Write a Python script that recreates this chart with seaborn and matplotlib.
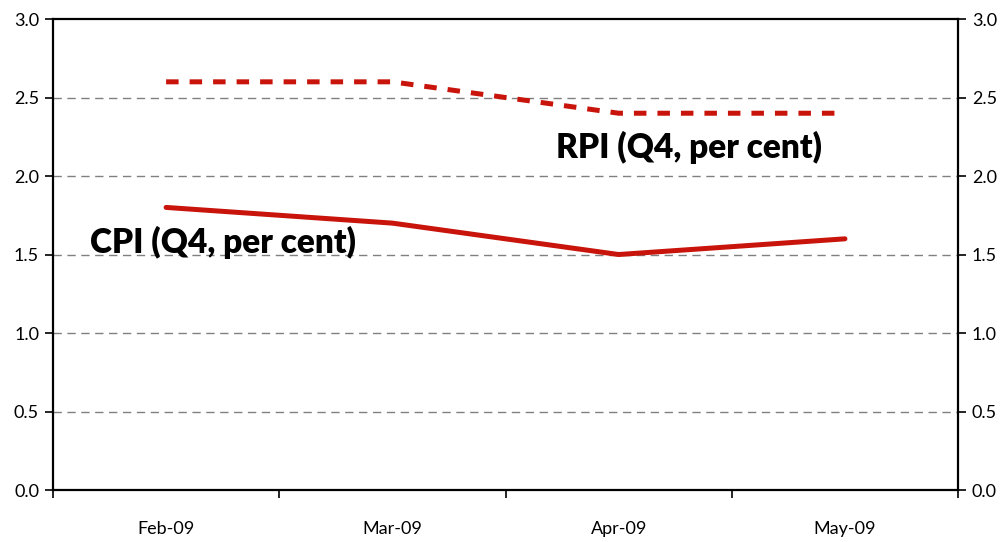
import pandas as pd
import matplotlib.pyplot as plt
import seaborn as sns
from matplotlib.ticker import FixedLocator, NullFormatter

# Data
months = ['Feb-09', 'Mar-09', 'Apr-09', 'May-09']
cpi = [1.8, 1.7, 1.5, 1.6]
rpi = [2.6, 2.6, 2.4, 2.4]
y_ticks = [0.0, 0.5, 1.0, 1.5, 2.0, 2.5, 3.0]

RED = '#C8140A'


def build_frame():
    """Gom dữ liệu thành DataFrame dạng dài."""
    idx = list(range(len(months)))
    df = pd.DataFrame({
        'pos': idx * 2,
        'value': cpi + rpi,
        'series': ['CPI'] * len(months) + ['RPI'] * len(months),
    })
    return df


def main():
    sns.set_style('white')
    plt.rcParams['font.family'] = ['Lato', 'DejaVu Sans']
    plt.rcParams['text.color'] = 'black'
    plt.rcParams['xtick.color'] = 'black'
    plt.rcParams['ytick.color'] = 'black'

    df = build_frame()
    fig = plt.figure(figsize=(10.07, 5.42), dpi=100)
    ax = fig.add_axes([0.0526, 0.0959, 0.8988, 0.869])

    # Lưới ngang nét đứt
    for y in y_ticks[1:-1]:
        ax.axhline(y, color='#808080', lw=1.0, ls=(0, (6, 4)), zorder=1)

    sns.lineplot(data=df[df['series'] == 'CPI'], x='pos', y='value',
                 color=RED, lw=3.6, ax=ax, zorder=3)
    sns.lineplot(data=df[df['series'] == 'RPI'], x='pos', y='value',
                 color=RED, lw=3.6, ax=ax, zorder=3)
    ax.lines[-1].set_dashes((2.5, 2.2))

    ax.set_xlim(-0.5, len(months) - 0.5)
    ax.set_ylim(0, 3.0)
    ax.set_xlabel('')
    ax.set_ylabel('')

    # Nhãn trục x ở giữa, vạch ở ranh giới các tháng
    ax.xaxis.set_major_locator(FixedLocator([i - 0.5 for i in range(len(months) + 1)]))
    ax.xaxis.set_major_formatter(NullFormatter())
    ax.xaxis.set_minor_locator(FixedLocator(list(range(len(months)))))
    ax.set_xticklabels(months, minor=True)
    ax.tick_params(axis='x', which='major', direction='out', length=6, width=1.2, bottom=True)
    ax.tick_params(axis='x', which='minor', length=0, pad=22, labelsize=13, bottom=True)

    ax.set_yticks(y_ticks)
    ax.set_yticklabels([f'{v:.1f}' for v in y_ticks])
    ax.tick_params(axis='y', direction='out', length=6, width=1.2, labelsize=13,
                   left=True, right=True, labelleft=True, labelright=True, pad=4)

    for side in ['left', 'right', 'top', 'bottom']:
        ax.spines[side].set_visible(True)
        ax.spines[side].set_color('black')
        ax.spines[side].set_linewidth(1.6)

    ax.text(0.25, 1.58, 'CPI (Q4, per cent)', fontsize=24, fontweight='heavy',
            ha='center', va='center', color='black')
    ax.text(2.31, 2.18, 'RPI (Q4, per cent)', fontsize=24, fontweight='heavy',
            ha='center', va='center', color='black')

    fig.savefig('out.png', dpi=100)
    plt.close(fig)


if __name__ == '__main__':
    main()
